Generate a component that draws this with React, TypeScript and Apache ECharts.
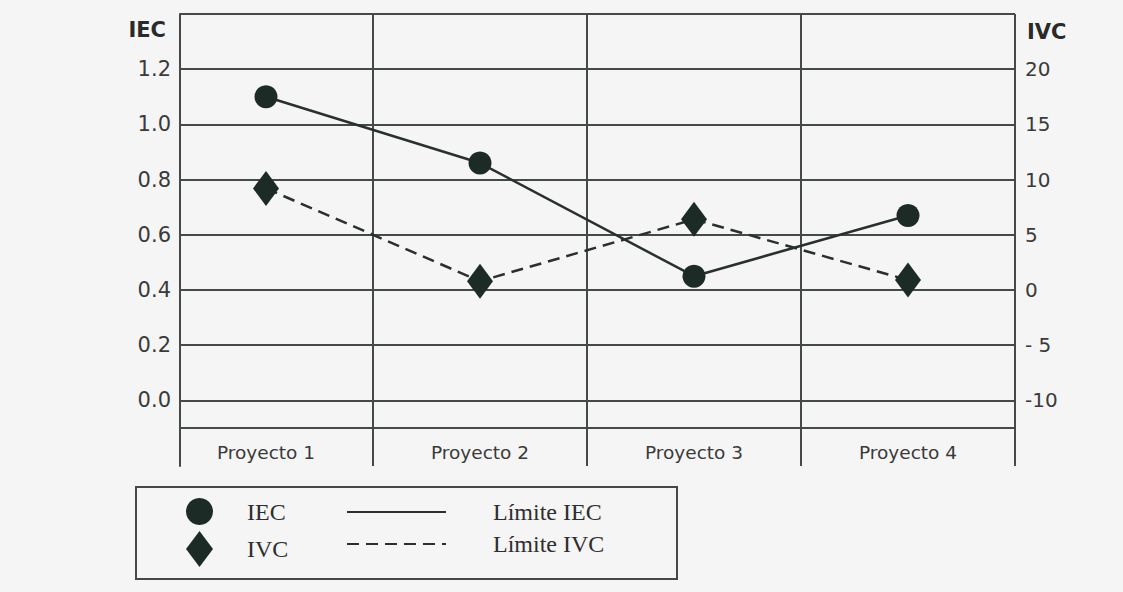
import React, { useEffect, useRef } from "react";
import * as echarts from "echarts";

// Projects on the horizontal axis
const CATEGORIES = ["Proyecto 1", "Proyecto 2", "Proyecto 3", "Proyecto 4"];

// Index values per project
const IEC_VALUES = [1.1, 0.86, 0.45, 0.67];
const IVC_VALUES = [9.2, 0.8, 6.4, 0.9];

// Tick labels shown on each value axis
const IEC_TICK_VALUES = [0.0, 0.2, 0.4, 0.6, 0.8, 1.0, 1.2];
const IVC_TICK_VALUES = [-10, -5, 0, 5, 10, 15, 20];
const IVC_TICK_TEXT = ["-10", "- 5", "0", "5", "10", "15", "20"];

// Axis extents
const IEC_MIN = -0.1;
const IEC_MAX = 1.4;
const IVC_MIN = -12.5;
const IVC_MAX = 25;

// Layout (pixels)
const W = 1123;
const H = 592;
const PLOT_LEFT = 180;
const PLOT_RIGHT = 1015;
const PLOT_TOP = 14;
const PLOT_BOTTOM = 428;
const BAND_BOTTOM = 466; // category label band below the plot
const COLUMN_WIDTH = 214;
const COLUMNS_LEFT = PLOT_RIGHT - COLUMN_WIDTH * CATEGORIES.length;

const GRID_COLOR = "#454948";
const MARK_COLOR = "#1d2b27";
const LINE_COLOR = "#2a302e";
const LABEL_COLOR = "#3a3a3a";
const BG = "#f5f5f5";
const SANS = '"DejaVu Sans", Verdana, sans-serif';
const SERIF = '"Liberation Serif", "Times New Roman", serif';
const DASH = [12, 7];

// Extend the value ranges down to the bottom of the label band so the
// data grid keeps the same pixel scale as the labelled plot area.
const bandRatio = (BAND_BOTTOM - PLOT_TOP) / (PLOT_BOTTOM - PLOT_TOP);
const IEC_BAND_MIN = IEC_MAX - (IEC_MAX - IEC_MIN) * bandRatio;
const IVC_BAND_MIN = IVC_MAX - (IVC_MAX - IVC_MIN) * bandRatio;

const DIAMOND_ICON = "path://M0,-18L13.5,0L0,18L-13.5,0Z";
const NO_SYMBOL = { color: "transparent", borderColor: "transparent", borderWidth: 0 };

function iecLabel(v: number): string {
  const hit = IEC_TICK_VALUES.find((t) => Math.abs(t - v) < 1e-6);
  return hit === undefined ? "" : hit.toFixed(1);
}

function ivcLabel(v: number): string {
  const i = IVC_TICK_VALUES.findIndex((t) => Math.abs(t - v) < 1e-6);
  return i < 0 ? "" : IVC_TICK_TEXT[i];
}

export default function App() {
  const ref = useRef<HTMLDivElement>(null);

  useEffect(() => {
    if (!ref.current) return;
    const chart = echarts.init(ref.current, null, { renderer: "svg" });

    const option: any = {
      animation: false,
      backgroundColor: BG,
      grid: [
        {
          // labelled plot area: horizontal rules and value labels
          left: PLOT_LEFT,
          right: W - PLOT_RIGHT,
          top: PLOT_TOP,
          height: PLOT_BOTTOM - PLOT_TOP,
          containLabel: false,
        },
        {
          // project columns, including the label band
          left: COLUMNS_LEFT,
          right: W - PLOT_RIGHT,
          top: PLOT_TOP,
          height: BAND_BOTTOM - PLOT_TOP,
          containLabel: false,
        },
      ],
      xAxis: [
        {
          type: "category",
          gridIndex: 0,
          data: CATEGORIES,
          axisLine: { show: true, onZero: false, lineStyle: { color: GRID_COLOR, width: 2 } },
          axisTick: { show: false },
          axisLabel: { show: false },
          splitLine: { show: false },
        },
        {
          type: "category",
          gridIndex: 1,
          data: CATEGORIES,
          boundaryGap: true,
          axisLine: { show: false, onZero: false },
          axisTick: { show: false },
          axisLabel: {
            show: true,
            inside: true,
            interval: 0,
            margin: 4,
            fontFamily: SANS,
            fontSize: 18.5,
            color: LABEL_COLOR,
          },
          splitLine: {
            show: true,
            interval: 0,
            showMinLine: false,
            lineStyle: { color: GRID_COLOR, width: 2 },
          },
        },
      ],
      yAxis: [
        {
          type: "value",
          gridIndex: 0,
          position: "left",
          min: IEC_MIN,
          max: IEC_MAX,
          interval: 0.1,
          name: "IEC",
          nameLocation: "end",
          nameGap: -16,
          nameTextStyle: {
            fontFamily: SANS,
            fontWeight: "bold",
            fontSize: 21,
            color: "#2a2a2a",
            align: "right",
            verticalAlign: "middle",
            padding: [0, 14, 0, 0],
          },
          axisLine: { show: false },
          axisTick: { show: false },
          axisLabel: {
            margin: 9,
            fontFamily: SANS,
            fontSize: 21,
            color: LABEL_COLOR,
            formatter: iecLabel,
          },
          splitLine: {
            show: true,
            lineStyle: { color: ["transparent", GRID_COLOR], width: 2 },
          },
        },
        {
          type: "value",
          gridIndex: 0,
          position: "right",
          min: IVC_MIN,
          max: IVC_MAX,
          interval: 2.5,
          name: "IVC",
          nameLocation: "end",
          nameGap: -18,
          nameTextStyle: {
            fontFamily: SANS,
            fontWeight: "bold",
            fontSize: 21,
            color: "#2a2a2a",
            align: "left",
            verticalAlign: "middle",
            padding: [0, 0, 0, 12],
          },
          axisLine: { show: false },
          axisTick: { show: false },
          axisLabel: {
            margin: 10,
            fontFamily: SANS,
            fontSize: 20,
            color: LABEL_COLOR,
            formatter: ivcLabel,
          },
          splitLine: { show: false },
        },
        {
          type: "value",
          gridIndex: 1,
          position: "left",
          offset: COLUMNS_LEFT - PLOT_LEFT,
          min: IEC_BAND_MIN,
          max: IEC_MAX,
          axisLine: { show: true, onZero: false, lineStyle: { color: GRID_COLOR, width: 2 } },
          axisTick: { show: false },
          axisLabel: { show: false },
          splitLine: { show: false },
        },
        {
          type: "value",
          gridIndex: 1,
          position: "right",
          min: IVC_BAND_MIN,
          max: IVC_MAX,
          show: false,
        },
      ],
      legend: [
        {
          data: [
            { name: "IEC", icon: "circle" },
            { name: "IVC", icon: DIAMOND_ICON },
          ],
          orient: "vertical",
          left: 186,
          top: 498,
          padding: 0,
          itemWidth: 27,
          itemHeight: 36,
          itemGap: 6,
          symbolKeepAspect: true,
          selectedMode: false,
          textStyle: {
            fontFamily: SERIF,
            fontSize: 24,
            color: "#2e2e2e",
            padding: [0, 0, 0, 29],
          },
        },
        {
          data: [
            { name: "Límite IEC", itemStyle: NO_SYMBOL },
            { name: "Límite IVC", itemStyle: NO_SYMBOL },
          ],
          orient: "vertical",
          left: 346,
          top: 500,
          padding: 0,
          itemWidth: 99,
          itemHeight: 24,
          itemGap: 8,
          selectedMode: false,
          textStyle: {
            fontFamily: SERIF,
            fontSize: 24,
            color: "#2e2e2e",
            padding: [0, 0, 0, 42],
          },
        },
      ],
      graphic: [
        {
          type: "rect",
          shape: { x: 136, y: 487, width: 541, height: 92 },
          style: { fill: "none", stroke: "#444846", lineWidth: 2 },
          silent: true,
        },
      ],
      series: [
        {
          name: "Límite IEC",
          type: "line",
          xAxisIndex: 1,
          yAxisIndex: 2,
          data: IEC_VALUES,
          symbol: "none",
          lineStyle: { color: LINE_COLOR, width: 2.5, type: "solid" },
          itemStyle: { color: LINE_COLOR },
          z: 3,
        },
        {
          name: "Límite IVC",
          type: "line",
          xAxisIndex: 1,
          yAxisIndex: 3,
          data: IVC_VALUES,
          symbol: "none",
          lineStyle: { color: LINE_COLOR, width: 2.5, type: DASH },
          itemStyle: { color: LINE_COLOR },
          z: 3,
        },
        {
          name: "IEC",
          type: "scatter",
          xAxisIndex: 1,
          yAxisIndex: 2,
          data: IEC_VALUES,
          symbol: "circle",
          symbolSize: 23,
          itemStyle: { color: MARK_COLOR, opacity: 1 },
          z: 4,
        },
        {
          name: "IVC",
          type: "scatter",
          xAxisIndex: 1,
          yAxisIndex: 3,
          data: IVC_VALUES,
          symbol: "diamond",
          symbolSize: [26, 35],
          itemStyle: { color: MARK_COLOR, opacity: 1 },
          z: 4,
        },
      ],
    };

    chart.setOption(option);
    return () => chart.dispose();
  }, []);

  return (
    <div
      ref={ref}
      style={{
        position: "fixed",
        left: 0,
        top: 0,
        width: W,
        height: H,
        background: BG,
      }}
    />
  );
}
